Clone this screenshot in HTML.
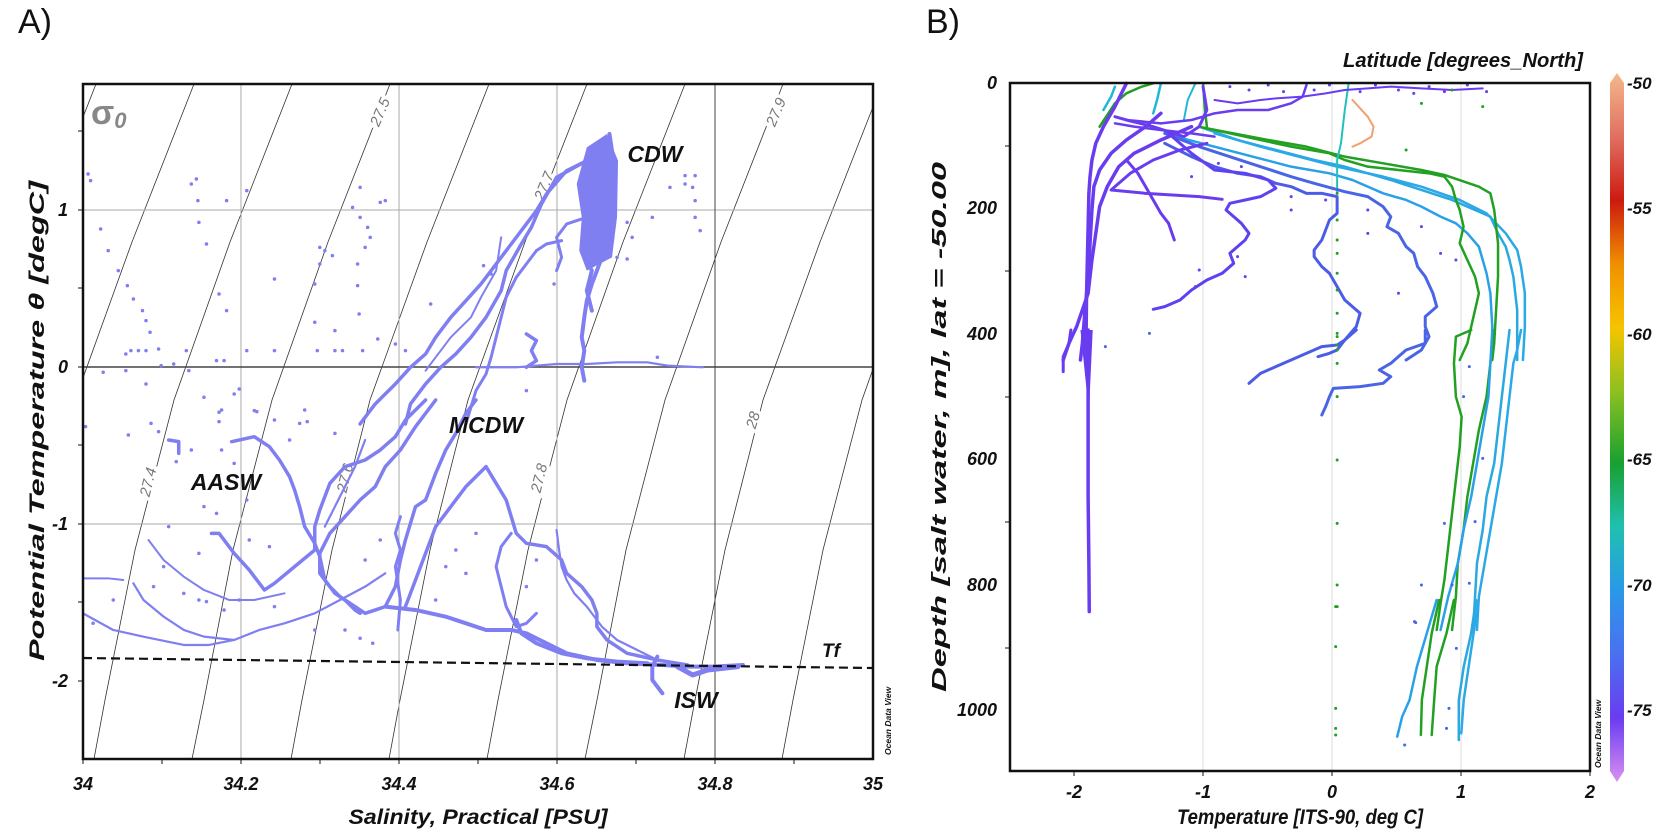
<!DOCTYPE html>
<html><head><meta charset="utf-8"><style>
html,body{margin:0;padding:0;background:#fff}
svg{display:block;font-family:"Liberation Sans",sans-serif}
.t{fill:none;stroke-linecap:round;stroke-linejoin:round;vector-effect:non-scaling-stroke}
.lab{font-weight:bold;font-style:italic;fill:#111}
.iso{font-style:italic;fill:#777;font-size:15px;paint-order:stroke;stroke:#fff;stroke-width:7px}
</style></head><body>
<svg width="1654" height="835" viewBox="0 0 1654 835">
<defs>
<clipPath id="ca"><rect x="83" y="84" width="790" height="675"/></clipPath>
<linearGradient id="cb" x1="0" y1="0" x2="0" y2="1">
<stop offset="0" stop-color="#f5b88a"/><stop offset="0.09" stop-color="#e07060"/><stop offset="0.18" stop-color="#cc1a10"/><stop offset="0.27" stop-color="#f09000"/><stop offset="0.36" stop-color="#f5c400"/><stop offset="0.45" stop-color="#8cc020"/><stop offset="0.55" stop-color="#18a030"/><stop offset="0.64" stop-color="#20c0b0"/><stop offset="0.73" stop-color="#2a98e8"/><stop offset="0.82" stop-color="#4a70f0"/><stop offset="0.91" stop-color="#6a3cf0"/><stop offset="1" stop-color="#d890f0"/>
</linearGradient>
</defs>
<rect width="1654" height="835" fill="#fff"/>
<text x="18" y="33" font-size="34" fill="#111">A)</text>
<text x="926" y="33" font-size="34" fill="#111">B)</text>

<!-- PANEL A -->
<g clip-path="url(#ca)">
<g stroke="#333" stroke-width="0.8" fill="none">
<polyline points="-102,759 -91,700 -61,550 -23,400 34,242 96,84"/>
<polyline points="-4,759 7,700 37,550 75,400 132,242 194,84"/>
<polyline points="94,759 105,700 135,550 174,400 230,242 292,84"/>
<polyline points="192,759 204,700 233,550 272,400 328,242 390,84"/>
<polyline points="291,759 302,700 332,550 370,400 427,242 489,84"/>
<polyline points="389,759 400,700 430,550 468,400 525,242 587,84"/>
<polyline points="487,759 498,700 528,550 567,400 623,242 685,84"/>
<polyline points="585,759 597,700 626,550 665,400 721,242 783,84"/>
<polyline points="684,759 695,700 725,550 763,400 820,242 882,84"/>
<polyline points="782,759 793,700 823,550 862,400 918,242 980,84"/>
</g>
<g stroke="#aaa" stroke-width="1">
<line x1="241" y1="84" x2="241" y2="759"/><line x1="399" y1="84" x2="399" y2="759"/><line x1="557" y1="84" x2="557" y2="759"/>
<line x1="83" y1="210" x2="873" y2="210"/><line x1="83" y1="524" x2="873" y2="524"/>
</g>
<line x1="715" y1="84" x2="715" y2="759" stroke="#444" stroke-width="1"/>
<line x1="83" y1="367" x2="873" y2="367" stroke="#444" stroke-width="1.6"/>
<text class="iso" transform="translate(148 482) rotate(-76)" text-anchor="middle" dy="5">27.4</text>
<text class="iso" transform="translate(380 112) rotate(-67)" text-anchor="middle" dy="5">27.5</text>
<text class="iso" transform="translate(345 478) rotate(-76)" text-anchor="middle" dy="5">27.6</text>
<text class="iso" transform="translate(544 186) rotate(-68)" text-anchor="middle" dy="5">27.7</text>
<text class="iso" transform="translate(539 478) rotate(-76)" text-anchor="middle" dy="5">27.8</text>
<text class="iso" transform="translate(776 112) rotate(-67)" text-anchor="middle" dy="5">27.9</text>
<text class="iso" transform="translate(753 420) rotate(-73)" text-anchor="middle" dy="5">28</text>

<g stroke="#7f7ff2">
<g transform="translate(83 84) scale(0.5038 0.3333)">
<polygon points="1000,190 1040,150 1062,230 1060,400 1050,520 1000,560 985,500 990,400 980,300" fill="#7f7ff2" stroke="none"/>
<polyline class="t" stroke-width="4" points="1045,150 1050,200 1055,260 1050,330 1045,400 1040,470 1030,520 1020,560 1010,600 1000,650 995,700 990,760 995,800 990,850 995,890"/>
<polyline class="t" stroke-width="4" points="1010,200 1020,260 1000,320 1010,380 1000,440 990,500 1010,560 1000,620 1010,680"/>
<polyline class="t" stroke-width="3.5" points="1040,200 960,260 920,330 900,380 870,440 840,500 810,560 790,600 760,650 730,700 700,760 680,810 650,850 620,900 580,960 550,1020"/>
<polyline class="t" stroke-width="3.5" points="1000,230 940,280 910,360 890,430 870,480 840,560 830,620 800,700 770,760 740,810 710,850 680,900 650,960 640,1020"/>
<polyline class="t" stroke-width="3" points="950,470 920,480 900,500 880,540 860,580 840,640 830,700 820,760 810,820 800,870 780,920 760,1020"/>
<polyline class="t" stroke-width="3" points="1000,400 960,420 940,460 950,520 940,560"/>
<polyline class="t" stroke-width="2" points="830,460 820,560 790,640 770,700 730,760 700,820 680,860"/>
<polyline class="t" stroke-width="2.2" points="780,850 860,850 940,840 1000,840 1060,835 1120,835 1160,845 1230,850"/>
<polyline class="t" stroke-width="3.5" points="880,750 900,770 890,800 900,830 880,850"/>
<path class="t" stroke-width="3.5" d="M10 270h.1M15 290h.1M215 300h.1M225 285h.1M228 350h.1M230 415h.1M245 480h.1M285 350h.1M35 435h.1M50 500h.1M70 560h.1M88 605h.1M100 645h.1M118 680h.1M125 710h.1M133 745h.1M85 810h.1M95 800h.1M110 800h.1M125 800h.1M150 795h.1M155 845h.1M125 900h.1M85 860h.1M40 865h.1M180 840h.1M205 800h.1M210 860h.1M240 940h.1M265 830h.1M280 830h.1M270 630h.1M285 680h.1M325 320h.1M325 800h.1M380 585h.1M380 800h.1M460 715h.1M465 800h.1M500 800h.1M515 800h.1M500 740h.1M545 605h.1M550 310h.1M548 690h.1M545 540h.1M555 800h.1M585 765h.1M600 350h.1M590 355h.1M535 370h.1M550 400h.1M565 430h.1M570 460h.1M560 490h.1M470 490h.1M480 500h.1M495 515h.1M470 540h.1M460 600h.1M690 660h.1M795 545h.1M810 570h.1M935 600h.1M1060 520h.1M1080 525h.1M1090 460h.1M1080 415h.1M1130 400h.1M1140 820h.1M1165 310h.1M1195 275h.1M1215 275h.1M1210 310h.1M1215 350h.1M1215 400h.1M1225 440h.1M1195 300h.1M300 930h.1M310 915h.1M270 985h.1M340 980h.1M640 800h.1M620 780h.1M880 920h.1"/>
</g>
<g transform="translate(83 400) scale(0.5038 0.3333)">
<polyline class="t" stroke-width="3.5" points="680,0 640,60 620,110 590,150 560,180 520,200 490,250 470,330 460,380 460,450 420,500 380,550 360,570 345,540 330,510 300,460 270,400 255,400"/>
<polyline class="t" stroke-width="3.5" points="700,0 660,80 630,150 600,200 580,260 550,300 520,350 490,400 470,460 470,520 490,560 510,590 540,620 560,640 600,620 620,560 630,480 640,420 660,320 680,300 700,220 720,150 740,100 760,40 780,0"/>
<polyline class="t" stroke-width="3.5" points="295,125 340,110 370,140 390,180 410,230 420,270 430,320 440,380 460,430 470,470 480,540 500,580 520,600 540,630 550,640"/>
<polyline class="t" stroke-width="3.5" points="170,120 190,125 190,160"/>
<polyline class="t" stroke-width="2.2" points="0,640 60,690 120,710 200,735 250,735 300,720 350,690 400,670 460,640 510,600 560,560 600,520"/>
<polyline class="t" stroke-width="2.2" points="100,550 120,600 160,650 200,690 240,710 300,720"/>
<polyline class="t" stroke-width="2" points="0,535 50,535 80,540"/>
<polyline class="t" stroke-width="2" points="130,420 160,480 200,530 240,570 290,600 340,600 400,580"/>
<polyline class="t" stroke-width="4" points="600,620 660,630 720,650 760,670 800,690 850,690 880,700 920,730 960,760 1020,780 1080,790 1150,795 1200,800 1250,800 1310,795"/>
<polyline class="t" stroke-width="3.5" points="800,200 780,230 760,260 740,300 720,340 700,380 690,420 680,460 670,500 660,540 650,580 640,620"/>
<polyline class="t" stroke-width="3.5" points="800,200 820,250 840,300 850,350 860,400 880,430 920,440 950,480 960,520 990,560 1010,600 1020,640 1020,680 1040,720 1080,760 1140,780 1200,795"/>
<polyline class="t" stroke-width="4" points="860,660 870,700 900,730 950,760 1000,775 1060,785 1120,790"/>
<polyline class="t" stroke-width="3" points="900,640 880,670 860,680 840,620 830,560 820,500 830,440 850,400"/>
<polyline class="t" stroke-width="2.2" points="940,390 945,450 950,500 960,540 975,580 1000,620 1030,680 1060,720 1100,750 1140,780"/>
<polyline class="t" stroke-width="4" points="1140,770 1130,800 1130,840 1150,880"/>
<polyline class="t" stroke-width="5" points="1180,800 1210,825 1240,810 1300,800"/>
<polyline class="t" stroke-width="3" points="630,350 620,400 630,450 620,500 625,550 630,600 625,690"/>
<polyline class="t" stroke-width="2.2" points="560,120 540,200 520,260 500,320 480,380"/>
<path class="t" stroke-width="3.5" d="M5 80h.1M90 105h.1M135 70h.1M150 95h.1M185 185h.1M215 150h.1M240 320h.1M265 340h.1M275 30h.1M270 65h.1M275 150h.1M300 190h.1M325 300h.1M345 35h.1M380 60h.1M410 120h.1M430 70h.1M440 30h.1M445 65h.1M500 100h.1M160 500h.1M230 600h.1M245 605h.1M280 630h.1M310 600h.1M380 620h.1M460 690h.1M520 690h.1M550 715h.1M575 730h.1M560 480h.1M590 420h.1M230 460h.1M200 580h.1M330 420h.1M370 440h.1M170 380h.1M140 560h.1M20 670h.1M60 600h.1M740 450h.1M760 520h.1M700 600h.1M880 560h.1M900 480h.1M780 400h.1M720 500h.1"/>
</g>
</g>
</g>
<line x1="83" y1="658" x2="873" y2="668" stroke="#111" stroke-width="2.2" stroke-dasharray="9,5"/>
<rect x="83" y="84" width="790" height="675" fill="none" stroke="#111" stroke-width="2.5"/>
<g stroke="#111" stroke-width="1">
<line x1="78" y1="131" x2="83" y2="131"/><line x1="78" y1="210" x2="83" y2="210"/><line x1="78" y1="288" x2="83" y2="288"/><line x1="78" y1="367" x2="83" y2="367"/><line x1="78" y1="445" x2="83" y2="445"/><line x1="78" y1="524" x2="83" y2="524"/><line x1="78" y1="602" x2="83" y2="602"/><line x1="78" y1="681" x2="83" y2="681"/>
<line x1="83" y1="759" x2="83" y2="764"/><line x1="162" y1="759" x2="162" y2="764"/><line x1="241" y1="759" x2="241" y2="764"/><line x1="320" y1="759" x2="320" y2="764"/><line x1="399" y1="759" x2="399" y2="764"/><line x1="478" y1="759" x2="478" y2="764"/><line x1="557" y1="759" x2="557" y2="764"/><line x1="636" y1="759" x2="636" y2="764"/><line x1="715" y1="759" x2="715" y2="764"/><line x1="794" y1="759" x2="794" y2="764"/>
</g>
<g class="lab" font-size="18" text-anchor="end">
<text x="68" y="216">1</text><text x="68" y="373">0</text><text x="68" y="530">-1</text><text x="68" y="687">-2</text>
</g>
<g class="lab" font-size="18" text-anchor="middle">
<text x="83" y="790">34</text><text x="241" y="790">34.2</text><text x="399" y="790">34.4</text><text x="557" y="790">34.6</text><text x="715" y="790">34.8</text><text x="873" y="790">35</text>
</g>
<text class="lab" x="478" y="824" font-size="21" text-anchor="middle" textLength="259" lengthAdjust="spacingAndGlyphs">Salinity, Practical [PSU]</text>
<text class="lab" transform="translate(44 421) rotate(-90)" font-size="21" text-anchor="middle" textLength="480" lengthAdjust="spacingAndGlyphs">Potential Temperature θ [degC]</text>
<text x="91" y="124" font-size="34" font-weight="bold" fill="#888">σ<tspan font-size="22" font-style="italic" dy="4">0</tspan></text>
<g class="lab" font-size="23" text-anchor="middle">
<text x="655" y="162">CDW</text><text x="486" y="433">MCDW</text><text x="226" y="490">AASW</text><text x="696" y="708">ISW</text>
</g>
<text class="lab" x="831" y="657" font-size="19" text-anchor="middle">Tf</text>
<text class="lab" transform="translate(891 755) rotate(-90)" font-size="8.5">Ocean Data View</text>

<!-- PANEL B -->
<g stroke="#ddd" stroke-width="1">
<line x1="1203" y1="83" x2="1203" y2="771"/><line x1="1332" y1="83" x2="1332" y2="771"/><line x1="1461" y1="83" x2="1461" y2="771"/>
</g>
<g transform="translate(1000 60) scale(0.3831 0.3333)">
<polyline class="t" stroke="#2aa0e8" stroke-width="2.5" points="460,230 560,260 660,290 760,320 860,340 920,360 960,380 1000,400 1060,420 1100,440 1150,470 1190,490 1220,520 1250,560 1260,600 1270,640 1280,700 1285,800 1285,900"/>
<polyline class="t" stroke="#2aa8e0" stroke-width="2.5" points="520,200 620,240 720,270 820,300 900,320 960,340 1020,360 1100,390 1180,420 1240,450 1280,470 1300,520 1320,560 1330,600 1340,650 1350,750 1350,900"/>
<polyline class="t" stroke="#2aa8e8" stroke-width="2.5" points="560,220 680,260 780,290 880,320 1000,350 1100,380 1200,420 1270,460 1320,520 1350,570 1360,620 1370,700 1370,800 1365,900"/>
<polyline class="t" stroke="#22a022" stroke-width="2.5" points="520,200 640,230 760,260 860,280 900,300 960,320 1040,330 1120,340 1160,350 1180,380 1190,420 1200,450 1210,500 1200,550 1220,600 1240,650 1250,700 1240,750 1230,800 1220,850 1200,900"/>
<polyline class="t" stroke="#22a022" stroke-width="2.5" points="540,205 700,240 800,260 900,290 1000,310 1100,330 1160,345 1250,380 1280,400 1290,450 1295,500 1300,550 1300,650 1295,750 1290,850 1285,900"/>
<polyline class="t" stroke="#22a022" stroke-width="2.5" points="260,200 300,130 330,100 370,80 400,70"/>
<polyline class="t" stroke="#22a022" stroke-width="2.5" points="530,70 535,150 540,200"/>
<polyline class="t" stroke="#20b8d8" stroke-width="2.5" points="270,150 290,110 300,80"/>
<polyline class="t" stroke="#20b8d8" stroke-width="2.5" points="420,70 410,120 400,160"/>
<polyline class="t" stroke="#20b8d8" stroke-width="2" points="510,70 490,120 480,180"/>
<polyline class="t" stroke="#20c0c0" stroke-width="2" points="910,70 900,150 890,250 880,300 880,400"/>
<polyline class="t" stroke="#f0a070" stroke-width="2" points="920,120 960,170 975,200 970,230 940,250 920,260"/>
<polyline class="t" stroke="#4c5ce6" stroke-width="3" points="430,250 500,290 560,320 620,340 680,350 720,370 760,380 800,400 840,400 880,410 880,460 860,480 840,540 820,570 820,590 840,620 860,640 880,680 900,720 920,740 940,760 930,800 900,840 880,870 860,880 830,890"/>
<polyline class="t" stroke="#4a64e6" stroke-width="3" points="430,220 520,260 600,290 680,320 760,350 820,370 900,395 960,410 1000,440 1020,470 1010,500 1040,520 1060,560 1080,580 1090,620 1110,650 1130,700 1140,740 1110,770 1110,800 1120,830 1100,870 1060,900"/>
<polyline class="t" stroke="#6a3cf0" stroke-width="3.5" points="330,70 300,140 270,200 250,250 240,300 235,350 232,400 230,500 228,600 226,700 225,800 225,900"/>
<polyline class="t" stroke="#6a3cf0" stroke-width="3.5" points="420,160 380,200 330,240 290,280 260,330 245,380 240,450 235,550 230,650 222,750 215,850 210,900"/>
<polyline class="t" stroke="#6a3cf0" stroke-width="3.5" points="500,200 420,240 350,280 310,320 280,380 260,440 250,520 240,600 230,700 200,800 180,850 165,900"/>
<polyline class="t" stroke="#6a3cf0" stroke-width="3" points="540,250 470,270 400,300 340,340 300,380 290,390 380,400 450,405 520,410 580,418"/>
<polyline class="t" stroke="#6040f0" stroke-width="3" points="440,220 500,280 560,330 640,340 700,360 720,385 680,410 640,420 600,430 590,450 610,470 630,490 650,520 640,540 620,560 600,580 610,610 580,640 540,660 500,690 470,720 430,740 400,748"/>
<polyline class="t" stroke="#6a3cf0" stroke-width="3" points="330,300 360,340 380,380 400,420 420,460 440,490 455,540"/>
<polyline class="t" stroke="#6a3cf0" stroke-width="3" points="530,80 540,150 520,200 480,230 400,200 330,180 300,170"/>
<polyline class="t" stroke="#6a3cf0" stroke-width="2.5" points="330,180 420,190 500,180 560,160 620,150 700,150 760,130 790,110 800,75"/>
<polyline class="t" stroke="#6a3cf0" stroke-width="2.5" points="300,190 350,200 420,210 500,220 560,230"/>
<polyline class="t" stroke="#6a3cf0" stroke-width="2" points="560,120 620,130 680,120 720,115 790,110 850,100 900,90 960,85 1020,80 1100,85 1180,90 1260,85"/>
<path class="t" stroke="#6a3cf0" stroke-width="3" d="M600 80h.1M650 90h.1M700 75h.1M740 95h.1M820 90h.1M860 75h.1M940 95h.1M980 75h.1M1040 90h.1M1080 100h.1M1120 80h.1M1160 95h.1M1220 75h.1M1270 95h.1M500 350h.1M570 310h.1M630 320h.1M760 410h.1M850 420h.1M960 450h.1M760 450h.1M620 590h.1M640 650h.1M520 630h.1M510 680h.1M440 490h.1M1040 700h.1M1100 500h.1M1150 580h.1M1190 600h.1M960 520h.1"/>
<path class="t" stroke="#22a022" stroke-width="3" d="M880 400h.1M880 480h.1M880 540h.1M880 580h.1M880 640h.1M880 690h.1M880 760h.1M880 830h.1M880 870h.1M1100 130h.1M1260 140h.1M1060 270h.1M1180 90h.1"/>
</g>
<g transform="translate(1000 330) scale(0.3831 0.3333)">
<polygon points="210,0 242,0 236,150 230,300 226,180" fill="#6a3cf0"/>
<polyline class="t" stroke="#6a3cf0" stroke-width="3.5" points="230,0 230,300 230,500 232,700 233,845"/>
<polyline class="t" stroke="#6a3cf0" stroke-width="3" points="185,0 180,40 165,80 165,125"/>
<polyline class="t" stroke="#4c5ce6" stroke-width="3" points="930,0 900,30 880,45 840,50 780,80 720,110 680,130 650,160"/>
<polyline class="t" stroke="#4a64e6" stroke-width="3" points="1110,0 1110,40 1060,60 1020,100 990,120 1020,140 1000,160 940,170 870,175 860,200 850,230 840,255"/>
<polyline class="t" stroke="#22a022" stroke-width="2.5" points="1230,0 1190,20 1185,100 1190,200 1205,260 1200,350 1190,450 1180,550 1170,650 1160,750 1150,820 1140,900"/>
<polyline class="t" stroke="#22a022" stroke-width="2.5" points="1290,0 1280,100 1270,200 1250,300 1235,400 1220,500 1210,600 1195,700 1190,800 1180,900"/>
<polyline class="t" stroke="#2aa0e8" stroke-width="2.5" points="1285,0 1280,100 1275,200 1260,300 1245,400 1230,500 1210,600 1195,700 1170,800 1150,900"/>
<polyline class="t" stroke="#2aa8e0" stroke-width="2.5" points="1330,0 1320,100 1310,200 1300,300 1290,400 1270,500 1260,600 1245,700 1240,800 1235,900"/>
<polyline class="t" stroke="#2aa8e8" stroke-width="2.5" points="1360,0 1350,60 1340,100 1330,200 1320,300 1310,400 1295,500 1280,600 1265,700 1250,800 1245,900"/>
<path class="t" stroke="#22a022" stroke-width="3" d="M880 10h.1M880 45h.1M880 100h.1M880 200h.1M880 390h.1M880 580h.1M880 765h.1M880 830h.1"/>
<path class="t" stroke="#4a64e6" stroke-width="3" d="M390 10h.1M275 50h.1M1225 110h.1M1210 200h.1M1260 385h.1M1160 580h.1M1240 575h.1M1100 765h.1M1180 765h.1M1225 760h.1M1085 878h.1"/>
</g>
<g transform="translate(880 600) scale(0.4926 0.3333)">
<polyline class="t" stroke="#2aa0e8" stroke-width="2.5" points="1130,0 1110,100 1090,200 1075,300 1060,350 1050,410"/>
<polyline class="t" stroke="#22a022" stroke-width="2.5" points="1135,0 1120,100 1110,200 1100,300 1098,405"/>
<polyline class="t" stroke="#22a022" stroke-width="2.5" points="1165,0 1150,100 1130,200 1125,300 1120,405"/>
<polyline class="t" stroke="#2aa8e0" stroke-width="2.5" points="1210,0 1200,100 1185,200 1175,300 1175,420"/>
<polyline class="t" stroke="#2aa8e8" stroke-width="2.5" points="1215,0 1205,100 1195,200 1185,300 1180,400"/>
<path class="t" stroke="#22a022" stroke-width="3" d="M925 20h.1M925 140h.1M925 325h.1M925 385h.1M925 405h.1"/>
<path class="t" stroke="#4a64e6" stroke-width="3" d="M1085 65h.1M1170 145h.1M1155 325h.1M1150 385h.1M1065 435h.1"/>
</g>
<rect x="1010" y="83" width="580" height="688" fill="none" stroke="#111" stroke-width="2.5"/>
<g stroke="#111" stroke-width="1">
<line x1="1005" y1="146" x2="1010" y2="146"/><line x1="1005" y1="271" x2="1010" y2="271"/><line x1="1005" y1="397" x2="1010" y2="397"/><line x1="1005" y1="522" x2="1010" y2="522"/><line x1="1005" y1="648" x2="1010" y2="648"/>
<line x1="1074" y1="771" x2="1074" y2="776"/><line x1="1203" y1="771" x2="1203" y2="776"/><line x1="1332" y1="771" x2="1332" y2="776"/><line x1="1461" y1="771" x2="1461" y2="776"/><line x1="1590" y1="771" x2="1590" y2="776"/>
</g>
<g class="lab" font-size="18" text-anchor="end">
<text x="997" y="89">0</text><text x="997" y="214">200</text><text x="997" y="340">400</text><text x="997" y="465">600</text><text x="997" y="591">800</text><text x="997" y="716">1000</text>
</g>
<g class="lab" font-size="18" text-anchor="middle">
<text x="1074" y="798">-2</text><text x="1203" y="798">-1</text><text x="1332" y="798">0</text><text x="1461" y="798">1</text><text x="1590" y="798">2</text>
</g>
<text class="lab" x="1300" y="824" font-size="21" text-anchor="middle" textLength="246" lengthAdjust="spacingAndGlyphs">Temperature [ITS-90, deg C]</text>
<text class="lab" transform="translate(946 427) rotate(-90)" font-size="20" text-anchor="middle" textLength="530" lengthAdjust="spacingAndGlyphs">Depth [salt water, m], lat = -50.00</text>
<text class="lab" x="1583" y="67" font-size="20" text-anchor="end" textLength="240" lengthAdjust="spacingAndGlyphs">Latitude [degrees_North]</text>
<path d="M1610 83 L1617 73 L1624 83 L1624 771 L1617 782 L1610 771 Z" fill="url(#cb)"/>
<g class="lab" font-size="17">
<text x="1627" y="89">-50</text><text x="1627" y="214">-55</text><text x="1627" y="340">-60</text><text x="1627" y="465">-65</text><text x="1627" y="591">-70</text><text x="1627" y="716">-75</text>
</g>
<text class="lab" transform="translate(1601 768) rotate(-90)" font-size="8.5">Ocean Data View</text>
</svg>
</body></html>
